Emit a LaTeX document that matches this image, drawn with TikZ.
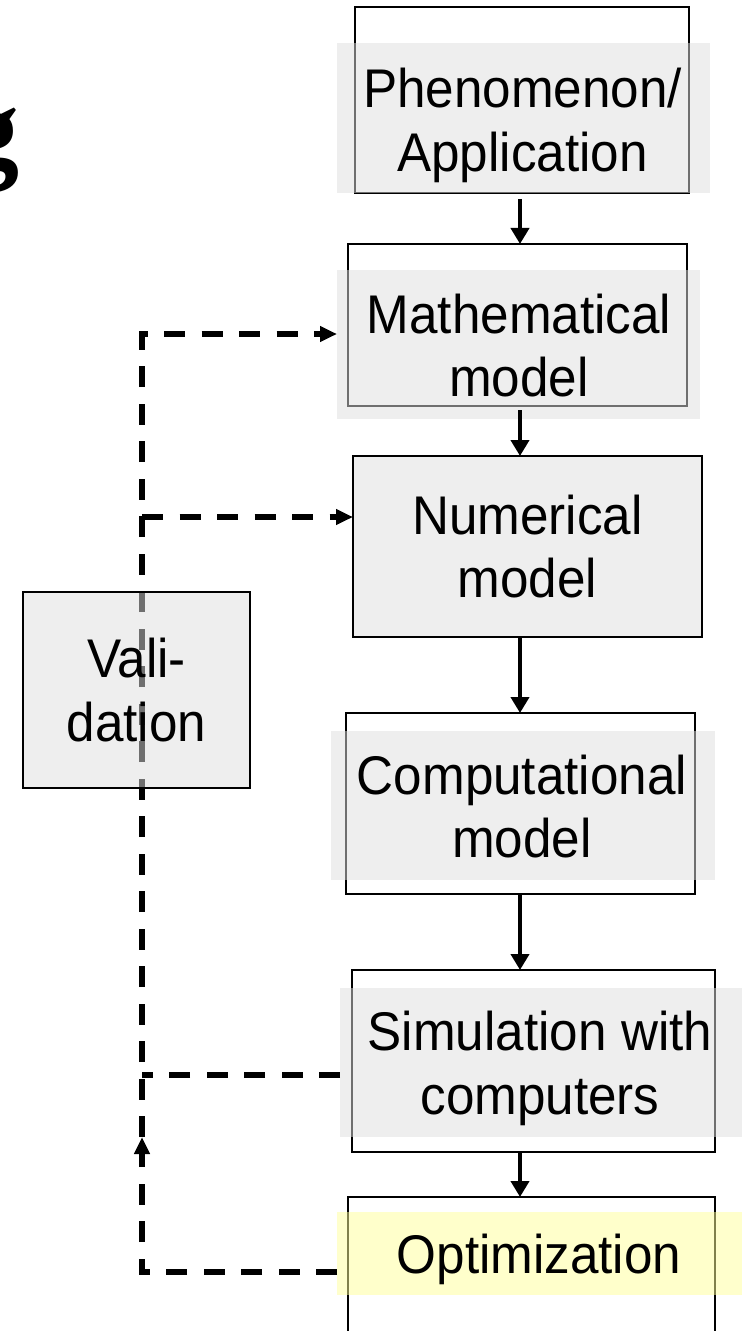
\documentclass[tikz,border=0pt]{standalone}
\usepackage{fontspec}
\setmainfont[FakeStretch=0.94]{Liberation Sans}
\newfontfamily\titlefont{Liberation Serif}
\usetikzlibrary{arrows.meta}

\definecolor{paleyellow}{rgb}{1,1,0.6}

\tikzset{
  boxframe/.style={draw=black,line width=1.1pt,fill=white,inner sep=0pt,outer sep=0pt},
  greypane/.style={fill=black!13,fill opacity=0.5,inner sep=0pt,outer sep=0pt},
  yellowpane/.style={fill=paleyellow,fill opacity=0.5,inner sep=0pt,outer sep=0pt},
  greybox/.style={draw=black,line width=1.1pt,fill=black!13,fill opacity=0.5,text opacity=1,
    inner sep=0pt,outer sep=0pt,align=center,font=\fontsize{31}{36}\selectfont},
  boxtext/.style={inner sep=0pt,align=center,font=\fontsize{31}{36}\selectfont},
  flow/.style={line width=2.3pt,-{Triangle[length=0.32cm,width=0.36cm]}},
  feedbackline/.style={line width=3.1pt,dash pattern=on 0.42cm off 0.33cm},
  feedback/.style={feedbackline,-{Triangle[length=0.34cm,width=0.3cm]}}
}

\begin{document}
\begin{tikzpicture}[y=-1cm]
%\draw[step=1cm,gray,very thin] (0,0) grid (15,27); %background grid
\useasboundingbox (0,0) rectangle (14.84,26.62);
\clip (0,0) rectangle (14.84,26.62);

% end of the cut-off title
\node[font=\titlefont\bfseries\fontsize{66}{72}\selectfont,anchor=base east,inner sep=0pt] (titleg) at (0.40,3.36) {g};

% outlined boxes
\node[boxframe,minimum width=6.68cm,minimum height=3.72cm] (phen) at (10.44,2.00) {};
\node[boxframe,minimum width=6.78cm,minimum height=3.24cm] (math) at (10.35,6.50) {};
\node[boxframe,minimum width=6.98cm,minimum height=3.62cm] (comp) at (10.41,16.07) {};
\node[boxframe,minimum width=7.26cm,minimum height=3.64cm] (sim) at (10.67,21.22) {};
\node[boxframe,minimum width=7.34cm,minimum height=3.06cm] (opt) at (10.63,25.47) {};

% panes lying over them
\node[greypane,minimum width=7.46cm,minimum height=3.00cm] (phenpane) at (10.47,2.36) {};
\node[greypane,minimum width=7.26cm,minimum height=2.98cm] (mathpane) at (10.37,6.89) {};
\node[greypane,minimum width=7.68cm,minimum height=2.98cm] (comppane) at (10.46,16.11) {};
\node[greypane,minimum width=8.04cm,minimum height=2.98cm] (simpane) at (10.82,21.25) {};
\node[yellowpane,minimum width=8.10cm,minimum height=1.66cm] (optpane) at (10.79,25.07) {};

\node[greybox,minimum width=6.98cm,minimum height=3.62cm] (num) at (10.55,10.93) {Numerical\\model};

% main chain
\coordinate (axis) at (10.40,0);
\draw[flow,shorten <=0.12cm] (phen.south -| axis) -- (math.north -| axis);
\draw[flow,shorten <=0.08cm] (math.south -| axis) -- (num.north -| axis);
\draw[flow] (num.south -| axis) -- (comp.north -| axis);
\draw[flow] (comp.south -| axis) -- (sim.north -| axis);
\draw[flow] (sim.south -| axis) -- (opt.north -| axis);

% feedback loop
\coordinate (mathjoin) at (2.84,6.68);
\coordinate (numjoin) at (2.84,10.34);
\coordinate (simjoin) at (2.84,21.50);
\coordinate (up) at (2.84,22.74);
\coordinate (optjoin) at (2.84,25.44);
\draw[feedback] (optjoin -| optpane.west) -- (optjoin) -- (up);
\draw[feedback] (up) -- (mathjoin) -- (mathjoin -| mathpane.west);
\draw[feedback] (numjoin) -- (numjoin -| num.west);
\draw[feedbackline] (simjoin -| simpane.west) -- (simjoin);

\node[greybox,minimum width=4.54cm,minimum height=3.92cm] (valid) at (2.73,13.80) {Vali-\\dation};

% texts
\node[boxtext] (phentext) at (10.45,2.51) {Phenomenon/\\Application};
\node[boxtext] (mathtext) at (10.38,6.91) {Mathematical\\model};
\node[boxtext] (comptext) at (10.44,16.13) {Computational\\model};
\node[boxtext] (simtext) at (10.80,21.37) {Simulation with\\computers};
\node[boxtext] (opttext) at (10.78,25.19) {Optimization};

\end{tikzpicture}
\end{document}
